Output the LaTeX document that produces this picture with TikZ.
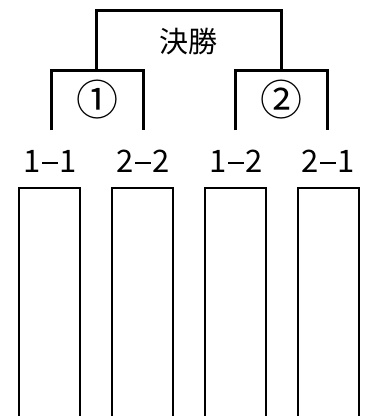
\documentclass[tikz,border=0pt]{standalone}
\usepackage{fontspec}
\newfontfamily\jp{Noto Sans CJK JP}
\newcommand\myhy{\hspace{1.5pt}\rule[8.5pt]{15.5pt}{1.6pt}\hspace{1.5pt}}
\begin{document}
\begin{tikzpicture}[x=1pt,y=-1pt,
  brk/.style={line width=3pt},
  boxline/.style={line width=1.5pt},
  lbl/.style={font=\jp\fontsize{29}{30}\selectfont, inner sep=0pt},
  num/.style={font=\jp\fontsize{31}{33}\selectfont, inner sep=0pt, anchor=base},
  circ/.style={font=\jp\fontsize{42}{44}\selectfont, inner sep=0pt}]
\useasboundingbox (0,0) rectangle (366,416);
% bracket coordinates
\coordinate (ta) at (96,10);
\coordinate (tb) at (281,10);
\coordinate (la) at (96,70);
\coordinate (ra) at (281,70);
\coordinate (l1) at (51,70);
\coordinate (l2) at (143,70);
\coordinate (r1) at (235,70);
\coordinate (r2) at (327,70);
\coordinate (l1b) at (51,130);
\coordinate (l2b) at (143,130);
\coordinate (r1b) at (235,130);
\coordinate (r2b) at (327,130);
\draw[brk] (la) -- (ta) -- (tb) -- (ra);
\draw[brk] (l1b) -- (l1) -- (l2) -- (l2b);
\draw[brk] (r1b) -- (r1) -- (r2) -- (r2b);
% labels
\node[lbl] (final) at (188,41) {決勝};
\node[circ] (m1) at (97,100) {①};
\node[circ] (m2) at (281,100) {②};
\node[num] (t11) at (50,172) {1\myhy1};
\node[num] (t22) at (143,172) {2\myhy2};
\node[num] (t12) at (236,172) {1\myhy2};
\node[num] (t21) at (328,172) {2\myhy1};
% boxes (open at bottom)
\foreach \a/\b in {19/80,112/173,205/266,298/359}{
  \draw[boxline] (\a,417) -- (\a,188) -- (\b,188) -- (\b,417);
}
\end{tikzpicture}
\end{document}
